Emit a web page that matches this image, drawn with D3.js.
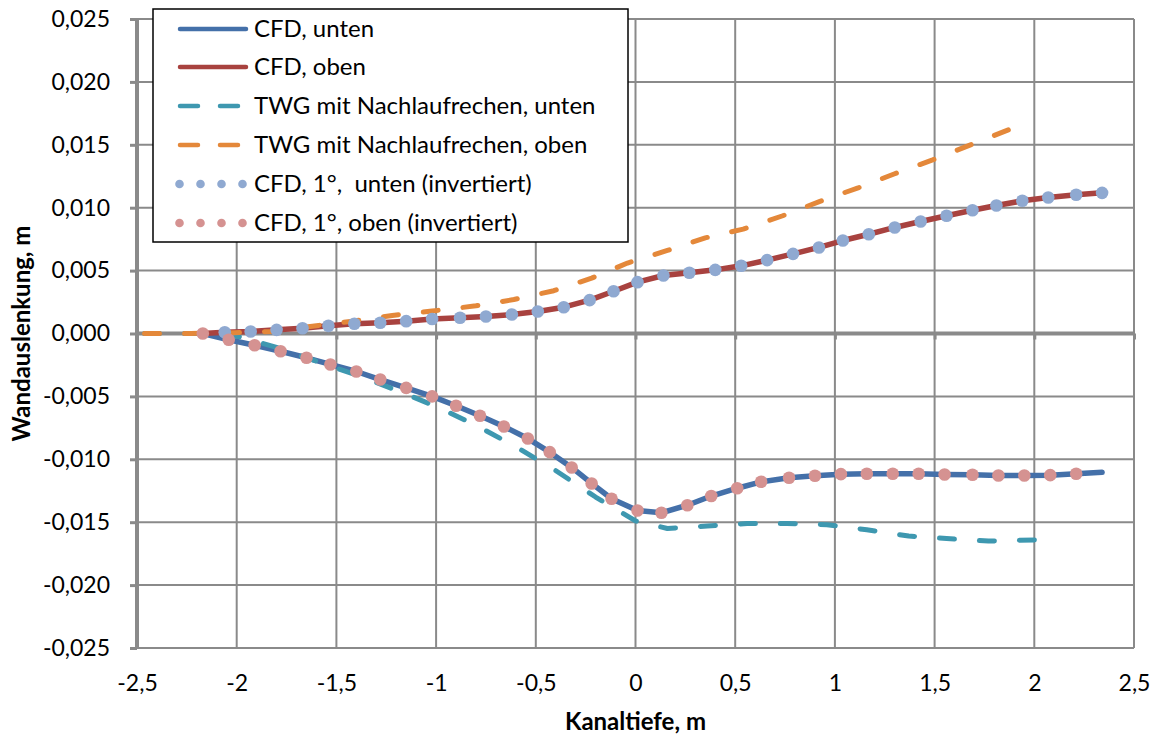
<!DOCTYPE html>
<html>
<head>
<meta charset="utf-8">
<script src="https://cdn.jsdelivr.net/npm/d3@7"></script>
<style>
  html, body { margin: 0; padding: 0; background: #ffffff; }
  svg { display: block; font-family: Lato, "Open Sans", sans-serif; }
  svg text { white-space: pre; }
</style>
</head>
<body>
<svg id="chart" width="1157" height="735"></svg>
<script>
// Axis ticks
const xTicks = [-2.5, -2, -1.5, -1, -0.5, 0, 0.5, 1, 1.5, 2, 2.5];
const xTickLabels = ["-2,5", "-2", "-1,5", "-1", "-0,5", "0", "0,5", "1", "1,5", "2", "2,5"];
const yTicks = [-0.025, -0.02, -0.015, -0.01, -0.005, 0, 0.005, 0.01, 0.015, 0.02, 0.025];
const yTickLabels = ["-0,025", "-0,020", "-0,015", "-0,010", "-0,005", "0,000", "0,005", "0,010", "0,015", "0,020", "0,025"];

// CFD, unten
const cfdUntenX = [-2.17, -2.04, -1.91, -1.78, -1.65, -1.53, -1.40, -1.28, -1.15, -1.02, -0.90, -0.78, -0.66, -0.54, -0.43, -0.32, -0.22, -0.12, 0.01, 0.13, 0.26, 0.38, 0.51, 0.63, 0.77, 0.90, 1.03, 1.16, 1.29, 1.42, 1.55, 1.69, 1.82, 1.95, 2.08, 2.21, 2.34];
const cfdUntenY = [0, -0.00050, -0.00093, -0.00141, -0.00193, -0.00246, -0.00302, -0.00366, -0.00432, -0.00500, -0.00574, -0.00654, -0.00739, -0.00835, -0.00943, -0.01065, -0.01192, -0.01314, -0.01407, -0.01425, -0.01365, -0.01292, -0.01230, -0.01179, -0.01147, -0.01131, -0.01118, -0.01115, -0.01115, -0.01115, -0.01121, -0.01123, -0.01129, -0.01129, -0.01126, -0.01115, -0.01103];

// CFD, oben
const cfdObenX = [-2.17, -2.06, -1.93, -1.80, -1.67, -1.54, -1.41, -1.28, -1.15, -1.02, -0.88, -0.75, -0.62, -0.49, -0.36, -0.23, -0.11, 0.01, 0.14, 0.27, 0.40, 0.53, 0.66, 0.79, 0.92, 1.04, 1.17, 1.30, 1.43, 1.56, 1.69, 1.81, 1.94, 2.07, 2.21, 2.34];
const cfdObenY = [0, 0.00010, 0.00016, 0.00029, 0.00042, 0.00061, 0.00077, 0.00085, 0.00098, 0.00115, 0.00125, 0.00135, 0.00151, 0.00175, 0.00209, 0.00265, 0.00336, 0.00408, 0.00461, 0.00483, 0.00506, 0.00538, 0.00583, 0.00633, 0.00684, 0.00739, 0.00789, 0.00843, 0.00890, 0.00936, 0.00980, 0.01017, 0.01055, 0.01081, 0.01103, 0.01118];

// TWG mit Nachlaufrechen, unten
const twgUntenX = [-2.5, -2.2, -2.0, -1.8, -1.6, -1.4, -1.2, -1.0, -0.8, -0.6, -0.4, -0.2, 0.0, 0.16, 0.36, 0.56, 0.76, 0.96, 1.16, 1.37, 1.56, 1.77, 2.02];
const twgUntenY = [0, 0, -0.0002, -0.0011, -0.0022, -0.0033, -0.0045, -0.0058, -0.0073, -0.0090, -0.0109, -0.0130, -0.0149, -0.0155, -0.0153, -0.0151, -0.0151, -0.0152, -0.0156, -0.0161, -0.0163, -0.0165, -0.0164];

// TWG mit Nachlaufrechen, oben
const twgObenX = [-2.5, -2.23, -2.01, -1.83, -1.59, -1.42, -1.22, -1.02, -0.80, -0.61, -0.41, -0.22, -0.04, 0.16, 0.35, 0.54, 0.735, 0.925, 1.12, 1.30, 1.49, 1.92];
const twgObenY = [0, 0, 0.00006, 0.00016, 0.00064, 0.00098, 0.00143, 0.00178, 0.0022, 0.0027, 0.0034, 0.0044, 0.0056, 0.0066, 0.0076, 0.0083, 0.00934, 0.0105, 0.0116, 0.0127, 0.0138, 0.0165];

// CFD, 1°, unten (invertiert)
const cfd1UntenX = [-2.06, -1.93, -1.80, -1.67, -1.54, -1.41, -1.28, -1.15, -1.02, -0.88, -0.75, -0.62, -0.49, -0.36, -0.23, -0.11, 0.01, 0.14, 0.27, 0.40, 0.53, 0.66, 0.79, 0.92, 1.04, 1.17, 1.30, 1.43, 1.56, 1.69, 1.81, 1.94, 2.07, 2.21, 2.34];
const cfd1UntenY = [0.00010, 0.00016, 0.00029, 0.00042, 0.00061, 0.00077, 0.00085, 0.00098, 0.00115, 0.00125, 0.00135, 0.00151, 0.00175, 0.00209, 0.00265, 0.00336, 0.00408, 0.00461, 0.00483, 0.00506, 0.00538, 0.00583, 0.00633, 0.00684, 0.00739, 0.00789, 0.00843, 0.00890, 0.00936, 0.00980, 0.01017, 0.01055, 0.01081, 0.01103, 0.01118];

// CFD, 1°, oben (invertiert)
const cfd1ObenX = [-2.17, -2.04, -1.91, -1.78, -1.65, -1.53, -1.40, -1.28, -1.15, -1.02, -0.90, -0.78, -0.66, -0.54, -0.43, -0.32, -0.22, -0.12, 0.01, 0.13, 0.26, 0.38, 0.51, 0.63, 0.77, 0.90, 1.03, 1.16, 1.29, 1.42, 1.55, 1.69, 1.82, 1.95, 2.08, 2.21];
const cfd1ObenY = [0, -0.00050, -0.00093, -0.00141, -0.00193, -0.00246, -0.00302, -0.00366, -0.00432, -0.00500, -0.00574, -0.00654, -0.00739, -0.00835, -0.00943, -0.01065, -0.01192, -0.01314, -0.01407, -0.01425, -0.01365, -0.01292, -0.01230, -0.01179, -0.01147, -0.01131, -0.01118, -0.01115, -0.01115, -0.01115, -0.01121, -0.01123, -0.01129, -0.01129, -0.01126, -0.01115];

const zip = (xs, ys) => xs.map((v, i) => [v, ys[i]]);

const series = [
  { name: "CFD, unten", kind: "line", color: "#4470a9", data: zip(cfdUntenX, cfdUntenY) },
  { name: "CFD, oben", kind: "line", color: "#a8423f", data: zip(cfdObenX, cfdObenY) },
  { name: "TWG mit Nachlaufrechen, unten", kind: "dash", color: "#3e98b0", data: zip(twgUntenX, twgUntenY) },
  { name: "TWG mit Nachlaufrechen, oben", kind: "dash", color: "#e4883a", data: zip(twgObenX, twgObenY) },
  { name: "CFD, 1°,  unten (invertiert)", kind: "dots", color: "#8fa9d1", data: zip(cfd1UntenX, cfd1UntenY) },
  { name: "CFD, 1°, oben (invertiert)", kind: "dots", color: "#d59291", data: zip(cfd1ObenX, cfd1ObenY) }
];

const svg = d3.select("#chart");
const plotLeft = 137, plotRight = 1134, plotTop = 19, plotBottom = 648;
const xScale = d3.scaleLinear().domain([-2.5, 2.5]).range([plotLeft, plotRight]);
const yScale = d3.scaleLinear().domain([-0.025, 0.025]).range([plotBottom, plotTop]);
const gridColor = "#8a8a8a";

// Gridlines
const grid = svg.append("g");
grid.selectAll("line.v").data(xTicks).join("line").attr("class", "v")
  .attr("x1", d => xScale(d)).attr("x2", d => xScale(d))
  .attr("y1", plotTop).attr("y2", plotBottom)
  .attr("stroke", gridColor).attr("stroke-width", 2);
grid.selectAll("line.h").data(yTicks).join("line").attr("class", "h")
  .attr("x1", plotLeft).attr("x2", plotRight)
  .attr("y1", d => yScale(d)).attr("y2", d => yScale(d))
  .attr("stroke", gridColor).attr("stroke-width", 2);

// Vertical axis with outside ticks
const yAxis = d3.axisLeft(yScale).tickValues(yTicks).tickSize(7)
  .tickFormat((d, i) => yTickLabels[i]).tickPadding(20);
const gy = svg.append("g").attr("transform", `translate(${plotLeft},0)`).call(yAxis);
gy.select(".domain").attr("stroke", gridColor).attr("stroke-width", 4).attr("d", `M0,${plotTop}V${plotBottom}`);
gy.selectAll(".tick line").attr("stroke", gridColor).attr("stroke-width", 3);
gy.selectAll(".tick text").attr("font-size", 23).attr("fill", "#000").attr("font-family", "Lato");

// Horizontal axis line at zero, labels along the bottom
const xAxisLine = d3.axisBottom(xScale).tickValues(xTicks).tickSize(6).tickFormat("");
const gx0 = svg.append("g").attr("transform", `translate(0,${yScale(0)})`).call(xAxisLine);
gx0.select(".domain").attr("stroke", gridColor).attr("stroke-width", 4).attr("d", `M${plotLeft},0H${plotRight}`);
gx0.selectAll(".tick line").attr("stroke", gridColor).attr("stroke-width", 3);

const xAxisLabels = d3.axisBottom(xScale).tickValues(xTicks).tickSize(0)
  .tickFormat((d, i) => xTickLabels[i]).tickPadding(27);
const gx = svg.append("g").attr("transform", `translate(0,${plotBottom})`).call(xAxisLabels);
gx.select(".domain").remove();
gx.selectAll(".tick text").attr("font-size", 23).attr("fill", "#000").attr("font-family", "Lato");

// Axis titles
svg.append("text").attr("x", (plotLeft + plotRight) / 2).attr("y", 730)
  .attr("text-anchor", "middle").attr("font-weight", "bold").attr("font-size", 24)
  .text("Kanaltiefe, m");
svg.append("text").attr("transform", `translate(30,${(plotTop + plotBottom) / 2}) rotate(-90)`)
  .attr("text-anchor", "middle").attr("font-weight", "bold").attr("font-size", 24)
  .text("Wandauslenkung, m");

// Series
const lineGen = d3.line().x(d => xScale(d[0])).y(d => yScale(d[1]));
const plot = svg.append("g");
series.forEach(s => {
  if (s.kind === "dots") {
    plot.append("g").selectAll("circle").data(s.data).join("circle")
      .attr("cx", d => xScale(d[0])).attr("cy", d => yScale(d[1])).attr("r", 6.3)
      .attr("fill", s.color);
  } else {
    plot.append("path").datum(s.data)
      .attr("d", lineGen).attr("fill", "none")
      .attr("stroke", s.color)
      .attr("stroke-width", s.kind === "line" ? 5.5 : 5)
      .attr("stroke-linejoin", "round")
      .attr("stroke-linecap", "round")
      .attr("stroke-dasharray", s.kind === "dash" ? "15,25" : null)
      .attr("stroke-dashoffset", s.kind === "dash" ? -7.5 : null);
  }
});

// Legend
const lg = svg.append("g");
lg.append("rect").attr("x", 153).attr("y", 9).attr("width", 475).attr("height", 233)
  .attr("fill", "#fff").attr("stroke", "#000").attr("stroke-width", 1.5);
const rowY = [29, 67, 106, 145, 184, 223];
series.forEach((s, i) => {
  const g = lg.append("g").attr("transform", `translate(0,${rowY[i]})`);
  if (s.kind === "dots") {
    g.selectAll("circle").data([179.5, 200.5, 221.5, 242.5]).join("circle")
      .attr("cx", d => d).attr("cy", 0).attr("r", 4.3).attr("fill", s.color);
  } else {
    g.append("line").attr("x1", 180).attr("x2", 246).attr("y1", 0).attr("y2", 0)
      .attr("stroke", s.color).attr("stroke-width", 4.5).attr("stroke-linecap", "round")
      .attr("stroke-dasharray", s.kind === "dash" ? "18,22" : null);
  }
  g.append("text").attr("x", 254).attr("y", 0).attr("dy", "0.35em")
    .attr("font-size", 24).attr("fill", "#000").text(s.name);
});
</script>
</body>
</html>
